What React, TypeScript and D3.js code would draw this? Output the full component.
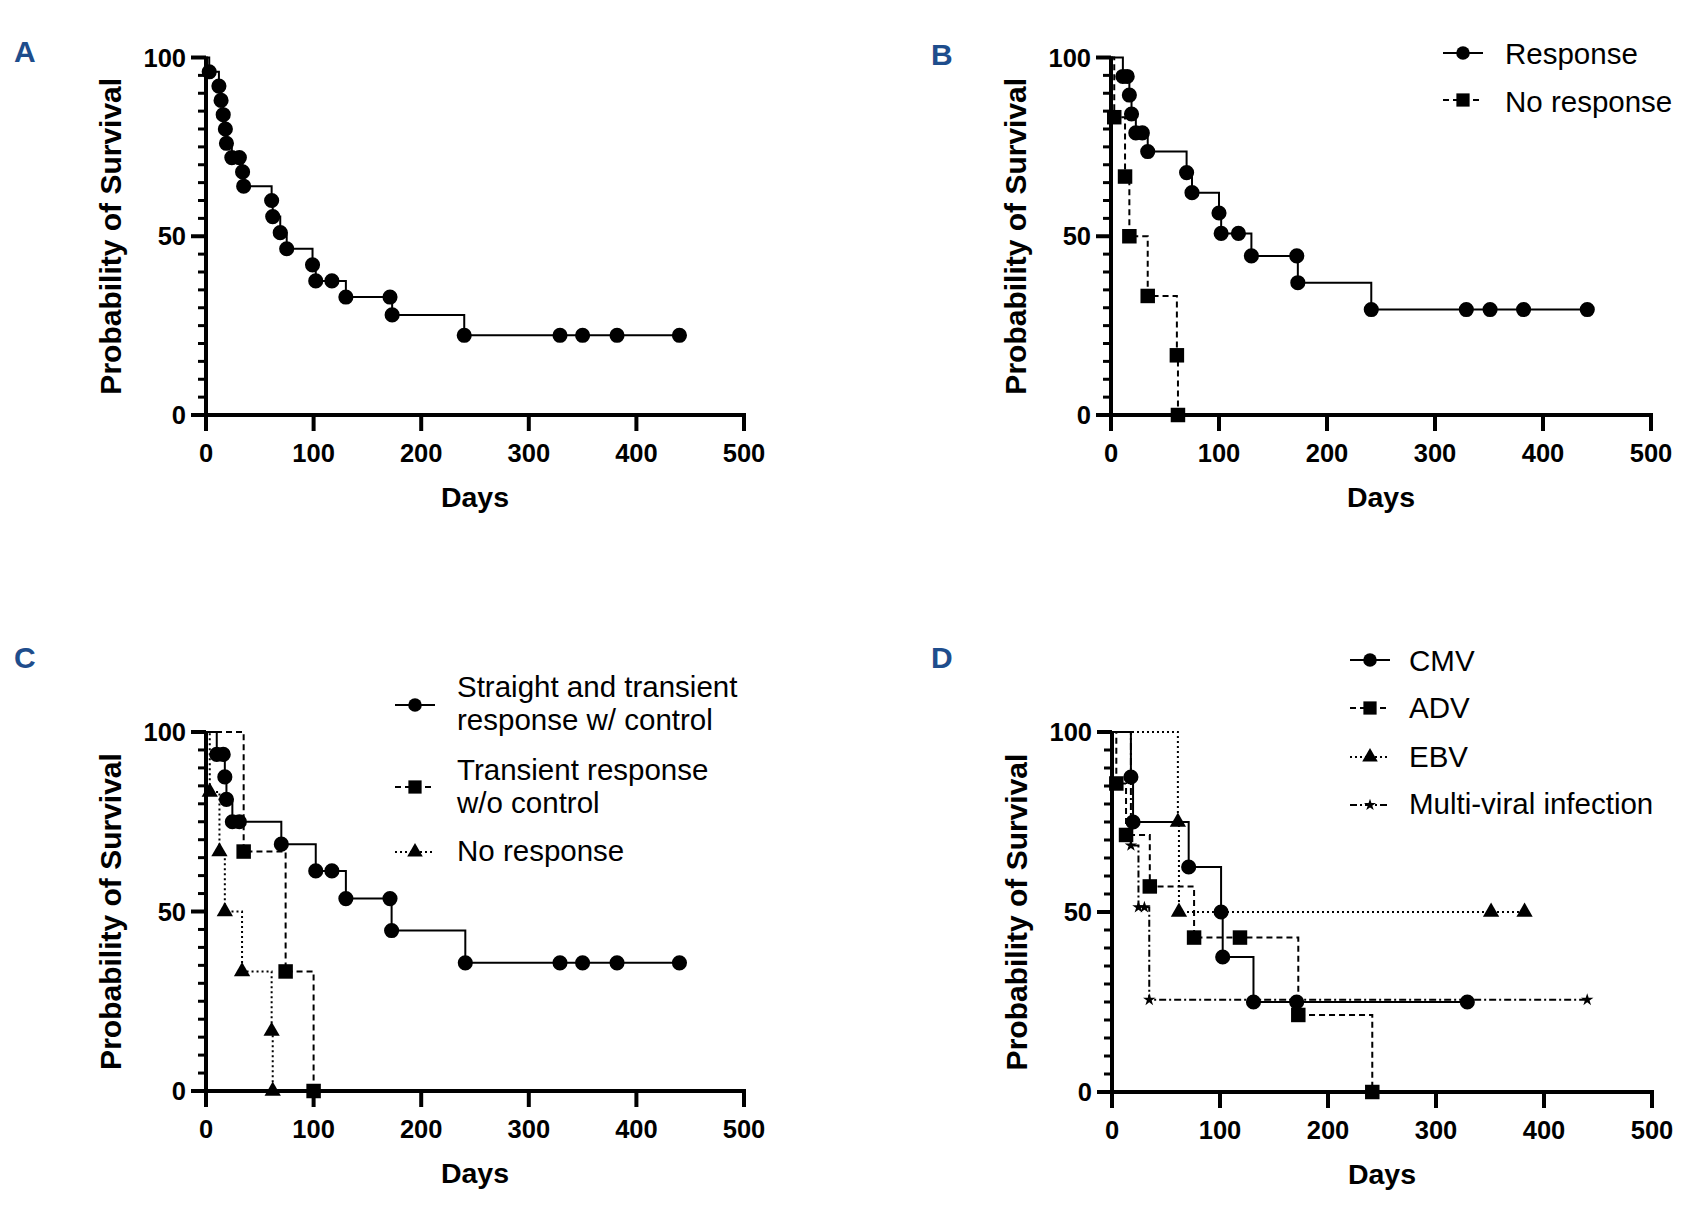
import * as d3 from "d3";

// ---- axis ticks ----
const dayTicks = [0, 100, 200, 300, 400, 500];
const survivalTicks = [0, 50, 100];
const survivalMinorTicks = [5, 10, 15, 20, 25, 30, 35, 40, 45, 55, 60, 65, 70, 75, 80, 85, 90, 95];

// ---- panel A: all patients ----
const allDays = [3, 12, 14, 16, 18, 19, 24, 31, 34, 35, 61, 62, 69, 75, 99, 102, 117, 130, 171, 173, 240, 329, 350, 382, 440];
const allSurvival = [96, 92, 88, 84, 80, 76, 72, 72, 68, 64, 60, 55.5, 51, 46.5, 42, 37.5, 37.5, 33, 33, 28, 22.3, 22.3, 22.3, 22.3, 22.3];

// ---- panel B: response vs no response ----
const responseDays = [11, 15, 17, 19, 23, 29, 34, 70, 75, 100, 102, 118, 130, 172, 173, 241, 329, 351, 382, 441];
const responseSurvival = [94.7, 94.7, 89.5, 84.2, 78.9, 78.9, 73.7, 67.8, 62.2, 56.5, 50.8, 50.8, 44.5, 44.5, 37, 29.5, 29.5, 29.5, 29.5, 29.5];
const noResponseDays = [3, 13, 17, 34, 61, 62];
const noResponseSurvival = [83.3, 66.7, 50, 33.3, 16.7, 0];
const legendB = [["Response"], ["No response"]];

// ---- panel C: type of response ----
const controlDays = [10, 16, 17.5, 19, 24.5, 31, 70, 102, 117, 130, 171, 172.5, 241, 329, 350, 382, 440];
const controlSurvival = [93.75, 93.75, 87.5, 81.25, 75, 75, 68.75, 61.3, 61.3, 53.6, 53.6, 44.7, 35.7, 35.7, 35.7, 35.7, 35.7];
const transientDays = [35, 74, 100];
const transientSurvival = [66.7, 33.3, 0];
const noneDays = [3.5, 12.5, 17.5, 33.5, 61, 62];
const noneSurvival = [83.3, 66.7, 50, 33.3, 16.7, 0];
const legendC = [["Straight and transient", "response w/ control"], ["Transient response", "w/o control"], ["No response"]];

// ---- panel D: virus ----
const cmvDays = [17.5, 19.5, 71, 101, 102.5, 131, 171, 329];
const cmvSurvival = [87.5, 75, 62.5, 50, 37.5, 25, 25, 25];
const advDays = [4, 13, 35, 76, 118.5, 172.5, 241];
const advSurvival = [85.7, 71.4, 57.1, 42.9, 42.9, 21.4, 0];
const ebvDays = [61, 62, 351, 382];
const ebvSurvival = [75, 50, 50, 50];
const multiDays = [17.5, 24.5, 30, 34.5, 440];
const multiSurvival = [68.5, 51.3, 51.3, 25.6, 25.6];
const legendD = [["CMV"], ["ADV"], ["EBV"], ["Multi-viral infection"]];

const FONT = "'Liberation Sans', Arial, Helvetica, sans-serif";

type Style = { symbol: d3.SymbolType; size: number; legendSize: number; dash: string | null };
const circle: Style = { symbol: d3.symbolCircle, size: 180, legendSize: 145, dash: null };
const square: Style = { symbol: d3.symbolSquare, size: 210, legendSize: 175, dash: "6,4" };
const triangle: Style = { symbol: d3.symbolTriangle, size: 115, legendSize: 105, dash: "2,3" };
const star: Style = { symbol: d3.symbolStar, size: 48, legendSize: 45, dash: "7,3,2,3" };

type Series = { days: number[]; survival: number[]; style: Style };

type PanelProps = {
  letter: string;
  left: number;
  right: number;
  top: number;
  bottom: number;
  series: Series[];
  legend?: {
    labels: string[][];
    x: number;
    textX: number;
    markerY: number[];
    lineY: number[][];
  };
  letterPos: [number, number];
};

function Panel({ letter, left, right, top, bottom, series, legend, letterPos }: PanelProps) {
  const x = d3.scaleLinear().domain([0, 500]).range([left, right]);
  const y = d3.scaleLinear().domain([0, 100]).range([bottom, top]);
  const line = d3
    .line<[number, number]>()
    .x((d) => x(d[0]))
    .y((d) => y(d[1]))
    .curve(d3.curveStepAfter);

  return (
    <g>
      <text x={letterPos[0]} y={letterPos[1]} fontFamily={FONT} fontWeight="bold" fontSize={30} fill="#1e4d8c">
        {letter}
      </text>

      {/* curves */}
      {series.map((s, i) => {
        const pts: [number, number][] = [[0, 100], ...s.days.map((d, j) => [d, s.survival[j]] as [number, number])];
        const sym = d3.symbol().type(s.style.symbol).size(s.style.size)();
        return (
          <g key={i}>
            <path d={line(pts) ?? ""} fill="none" stroke="#000" strokeWidth={2} strokeDasharray={s.style.dash ?? undefined} />
            {s.days.map((d, j) => (
              <path key={j} d={sym ?? ""} transform={`translate(${x(d)},${y(s.survival[j])})`} fill="#000" />
            ))}
          </g>
        );
      })}

      {/* y axis */}
      <line x1={left} x2={left} y1={top - 1} y2={bottom} stroke="#000" strokeWidth={4} />
      {survivalMinorTicks.map((t) => (
        <line key={t} x1={left - 8} x2={left} y1={y(t)} y2={y(t)} stroke="#000" strokeWidth={3} />
      ))}
      {survivalTicks.map((t) => (
        <g key={t}>
          <line x1={left - 15} x2={left} y1={y(t)} y2={y(t)} stroke="#000" strokeWidth={4} />
          <text x={left - 20} y={y(t)} dy="0.36em" textAnchor="end" fontFamily={FONT} fontWeight="bold" fontSize={25.5}>
            {t}
          </text>
        </g>
      ))}
      <text
        transform={`translate(${left - 85},${(top + bottom) / 2}) rotate(-90)`}
        textAnchor="middle"
        fontFamily={FONT}
        fontWeight="bold"
        fontSize={30}
      >
        Probability of Survival
      </text>

      {/* x axis */}
      <line x1={left - 2} x2={right + 2} y1={bottom} y2={bottom} stroke="#000" strokeWidth={4} />
      {dayTicks.map((t) => (
        <g key={t}>
          <line x1={x(t)} x2={x(t)} y1={bottom} y2={bottom + 16} stroke="#000" strokeWidth={4} />
          <text x={x(t)} y={bottom + 47} textAnchor="middle" fontFamily={FONT} fontWeight="bold" fontSize={25.5}>
            {t}
          </text>
        </g>
      ))}
      <text x={(left + right) / 2} y={bottom + 92} textAnchor="middle" fontFamily={FONT} fontWeight="bold" fontSize={28.5}>
        Days
      </text>

      {/* legend */}
      {legend &&
        legend.labels.map((lab, i) => {
          const st = series[i].style;
          const sym = d3.symbol().type(st.symbol).size(st.legendSize)();
          const my = legend.markerY[i];
          return (
            <g key={i}>
              <line
                x1={legend.x}
                x2={legend.x + 40}
                y1={my}
                y2={my}
                stroke="#000"
                strokeWidth={2}
                strokeDasharray={st.dash ?? undefined}
              />
              <path d={sym ?? ""} transform={`translate(${legend.x + 20},${my})`} fill="#000" />
              {lab.map((txt, k) => (
                <text key={k} x={legend.textX} y={legend.lineY[i][k]} dy="0.35em" fontFamily={FONT} fontSize={29.5}>
                  {txt}
                </text>
              ))}
            </g>
          );
        })}
    </g>
  );
}

export default function App() {
  return (
    <div style={{ position: "absolute", left: 0, top: 0 }}>
      <svg width={1686} height={1208} style={{ display: "block", background: "#fff" }}>
        <Panel
          letter="A"
          left={206}
          right={744}
          top={57.5}
          bottom={415}
          letterPos={[14, 62]}
          series={[{ days: allDays, survival: allSurvival, style: circle }]}
        />
        <Panel
          letter="B"
          left={1111}
          right={1651}
          top={57.5}
          bottom={415}
          letterPos={[931, 65]}
          series={[
            { days: responseDays, survival: responseSurvival, style: circle },
            { days: noResponseDays, survival: noResponseSurvival, style: square },
          ]}
          legend={{ labels: legendB, x: 1443, textX: 1505, markerY: [53, 100], lineY: [[54], [102]] }}
        />
        <Panel
          letter="C"
          left={206}
          right={744}
          top={732}
          bottom={1091}
          letterPos={[14, 668]}
          series={[
            { days: controlDays, survival: controlSurvival, style: circle },
            { days: transientDays, survival: transientSurvival, style: square },
            { days: noneDays, survival: noneSurvival, style: triangle },
          ]}
          legend={{ labels: legendC, x: 395, textX: 457, markerY: [705, 787, 852], lineY: [[687, 720], [770, 803], [851]] }}
        />
        <Panel
          letter="D"
          left={1112}
          right={1652}
          top={732}
          bottom={1092}
          letterPos={[931, 668]}
          series={[
            { days: cmvDays, survival: cmvSurvival, style: circle },
            { days: advDays, survival: advSurvival, style: square },
            { days: ebvDays, survival: ebvSurvival, style: triangle },
            { days: multiDays, survival: multiSurvival, style: star },
          ]}
          legend={{ labels: legendD, x: 1350, textX: 1409, markerY: [660, 708, 757, 805], lineY: [[661], [708], [757], [804]] }}
        />
      </svg>
    </div>
  );
}
